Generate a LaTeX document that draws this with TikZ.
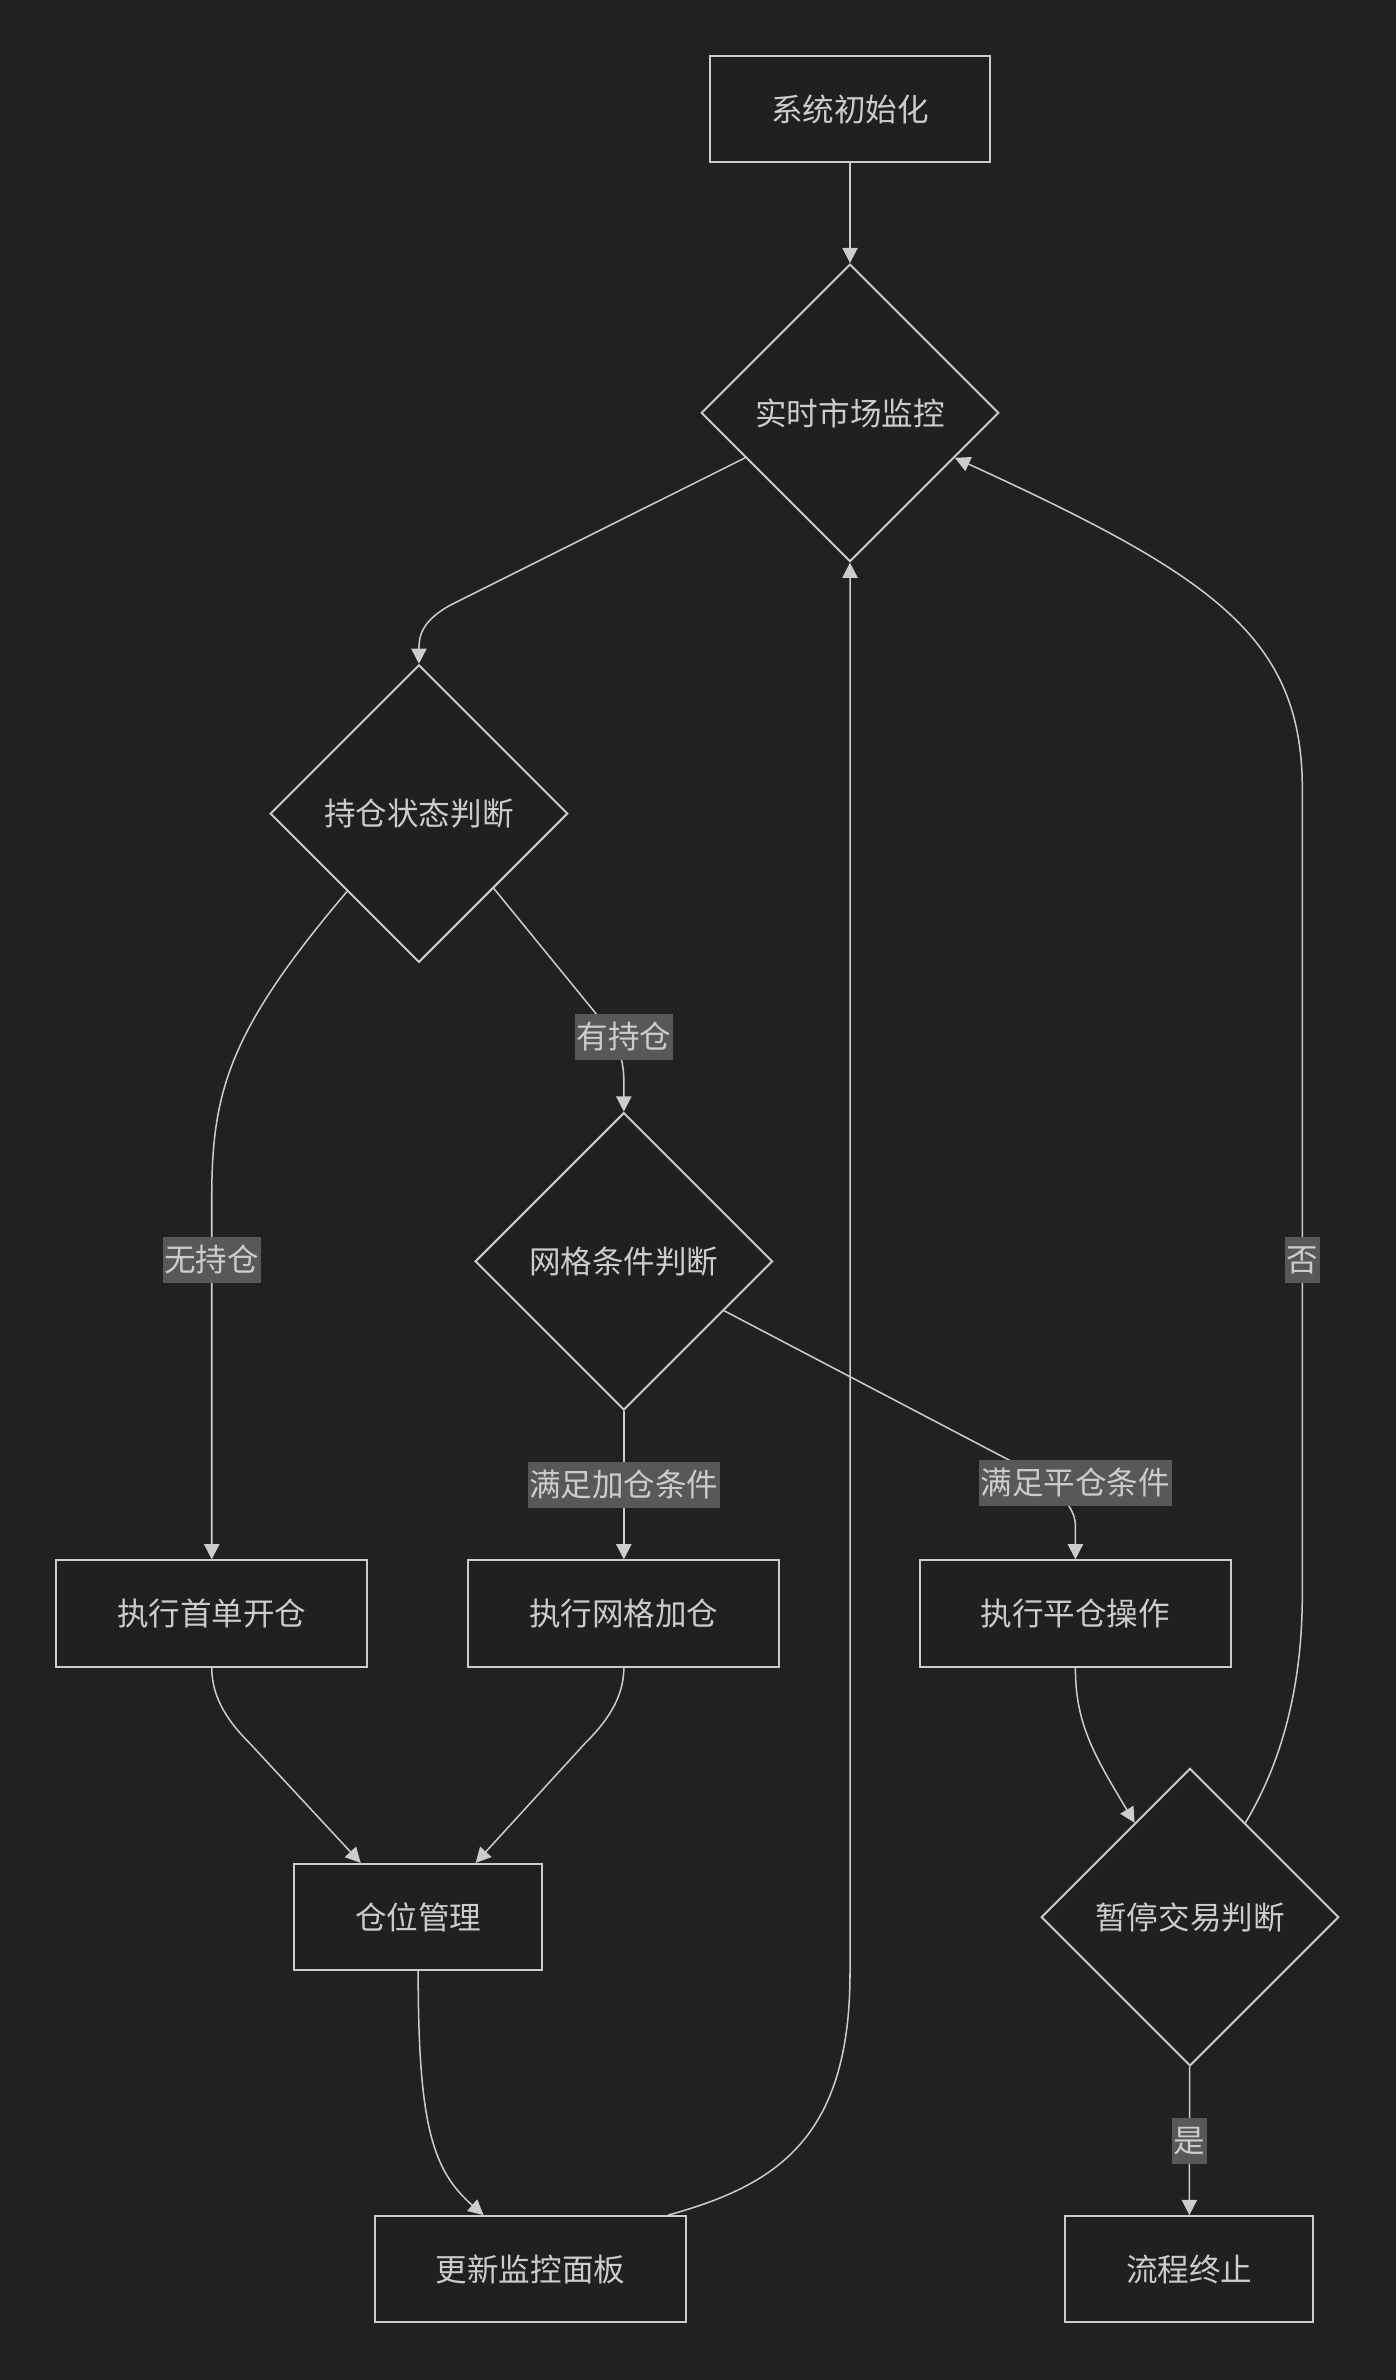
\documentclass[tikz,border=0pt]{standalone}
\usepackage{fontspec}
\setmainfont{Noto Sans CJK SC}
\usepackage{tikz}
\usetikzlibrary{arrows.meta,shapes.geometric,calc}
\definecolor{bgc}{HTML}{212121}
\definecolor{nodefill}{HTML}{1F2020}
\definecolor{linec}{HTML}{CCCCCC}
\definecolor{lblfill}{HTML}{585858}
\tikzset{
	box/.style={rectangle, draw=linec, line width=0.65pt, fill=nodefill, text=linec, minimum height=35pt, inner xsep=20pt},
	choice/.style={diamond, draw=linec, line width=0.65pt, fill=nodefill, text=linec, minimum width=98pt, minimum height=98pt, inner sep=0pt},
	lbl/.style={fill=lblfill, text=linec, inner xsep=0.5pt, inner ysep=2.6pt, text height=0.88em, text depth=0.12em},
	flow/.style={draw=linec, line width=0.5pt, -{Triangle[length=5pt, width=5pt]}}
}

\begin{document}
\begin{tikzpicture}[x=0.5pt, y=-0.5pt, font=\fontsize{10.4}{12}\selectfont]
		\fill [bgc] (0,0) rectangle (920,1568);
		\node [box](init) at (560,72) {系统初始化};
		\node [choice](mon) at (560,272) {实时市场监控};
		\node [choice](hold) at (276,536) {持仓状态判断};
		\node [choice](grid) at (411,831) {网格条件判断};
		\node [box](open) at (139.5,1063) {执行首单开仓};
		\node [box](add) at (411,1063) {执行网格加仓};
		\node [box](close) at (708.5,1063) {执行平仓操作};
		\node [box](pos) at (275.5,1263) {仓位管理};
		\node [choice](pause) at (784,1263) {暂停交易判断};
		\node [box](upd) at (349.5,1495) {更新监控面板};
		\node [box](stop) at (783.5,1495) {流程终止};
		\draw [flow] (init) -- (mon);
		\draw [flow] ($(mon.west)!0.3!(mon.south)$) -- (298,398) .. controls (277,409) and (276,420) .. (hold.north);
		\draw [flow] ($(hold.west)!0.52!(hold.south)$) .. controls (150,680) and (139.5,720) .. (139.5,790) -- node [lbl, pos=0.168] {无持仓} (open.north);
		\draw [flow] (hold.south east) -- (392,667) .. controls (405,683) and (411,695) .. (411,712) -- (grid.north) node [lbl] at (411,683) {有持仓};
		\draw [flow] (grid) -- node [lbl] {满足加仓条件} (add);
		\draw [flow] ($(grid.east)!0.33!(grid.south)$) -- (663,961) .. controls (690,975) and (708.5,990) .. (708.5,1005) -- (close.north) node [lbl] at (708.5,977) {满足平仓条件};
		\draw [flow] (open.south) .. controls (139.5,1120) and (152,1136) .. (165,1149) -- ($(pos.north west)!0.27!(pos.north east)$);
		\draw [flow] (add.south) .. controls (411,1120) and (398,1136) .. (385,1149) -- ($(pos.north west)!0.73!(pos.north east)$);
		\draw [flow] (pos.south) .. controls (275.5,1400) and (285,1430) .. ($(upd.north west)!0.35!(upd.north east)$);
		\draw [flow] ($(upd.north west)!0.94!(upd.north east)$) .. controls (510,1440) and (560,1410) .. (560,1300) -- (mon.south);
		\draw [flow] (close.south) .. controls (708.5,1135) and (720,1155) .. ($(pause.north)!0.37!(pause.west)$);
		\draw [flow] ($(pause.north)!0.37!(pause.east)$) .. controls (845,1160) and (858,1110) .. (858,1050) -- node [lbl, pos=0.415] {否} (858,520) .. controls (858,420) and (800,380) .. ($(mon.east)!0.3!(mon.south)$);
		\draw [flow] (pause) -- node [lbl] {是} (stop);
\end{tikzpicture}
\end{document}
